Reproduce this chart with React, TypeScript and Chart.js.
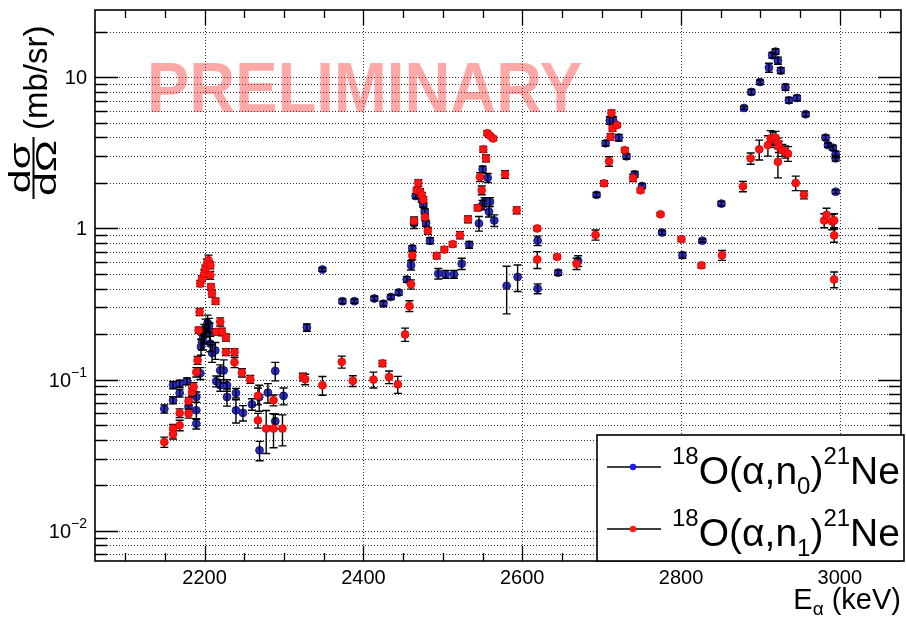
import React, { useEffect, useRef } from "react";
import { Chart, registerables } from "chart.js";

Chart.register(...registerables);

// 18O(α,n0)21Ne — beam energy (keV), cross section (mb/sr), uncertainty
const n0Energy = [
  2149.3, 2160.3, 2160.3, 2168.6, 2168.6, 2177.9, 2179.9, 2189.6, 2189.6, 2189.6,
  2194.6, 2195.5, 2196.7, 2198.0, 2199.6, 2201.3, 2203.8, 2205.5, 2206.3, 2207.2,
  2209.5, 2213.5, 2214.7, 2219.7, 2219.7, 2224.0, 2228.2, 2228.2, 2239.5, 2239.5,
  2248.3, 2259.6, 2268.8, 2269.2, 2279.7, 2289.0, 2289.0, 2299.4, 2328.8, 2348.4,
  2373.6, 2388.7, 2413.8, 2425.2, 2434.5, 2444.5, 2454.6, 2460.0, 2461.6, 2463.8,
  2465.9, 2473.5, 2475.5, 2477.2, 2478.9, 2483.9, 2494.3, 2503.6, 2514.0, 2523.8,
  2533.3, 2545.5, 2550.0, 2550.2, 2552.5, 2556.5, 2558.1, 2559.4, 2564.8, 2580.4,
  2594.2, 2619.4, 2619.4, 2645.3, 2670.4, 2693.6, 2705.0, 2710.3, 2714.5, 2721.6,
  2731.3, 2741.6, 2750.9, 2776.1, 2801.8, 2826.9, 2850.8, 2879.3, 2888.6, 2899.5,
  2910.7, 2914.9, 2919.0, 2922.0, 2925.6, 2931.5, 2935.8, 2946.0, 2956.9, 2982.0,
  2985.0, 2991.2, 2994.7, 2994.7, 2994.7,
];
const n0Value = [
  0.064, 0.092, 0.073, 0.094, 0.0815, 0.0975, 0.066, 0.0767, 0.0626, 0.0511,
  0.11, 0.165, 0.177, 0.187, 0.202, 0.221, 0.237, 0.229, 0.207, 0.173,
  0.15, 0.156, 0.0975, 0.115, 0.0917, 0.115, 0.0917, 0.0767, 0.0815, 0.0626,
  0.0602, 0.0686, 0.0767, 0.034, 0.082, 0.114, 0.053, 0.078, 0.221, 0.535,
  0.33, 0.33, 0.344, 0.318, 0.352, 0.377, 0.46, 0.571, 0.74, 1.08,
  1.64, 1.55, 1.43, 1.3, 1.08, 0.83, 0.503, 0.498, 0.498, 0.585,
  0.78, 1.08, 1.43, 2.46, 1.5, 2.16, 1.29, 1.5, 1.13, 0.417,
  0.478, 0.83, 0.4, 0.51, 0.61, 1.67, 3.66, 5.18, 5.18, 3.99,
  3.0, 2.28, 1.91, 0.94, 0.665, 0.83, 1.46, 6.27, 8.0, 9.3,
  11.6, 14.0, 14.8, 12.9, 11.1, 8.6, 7.05, 7.3, 5.7, 3.99,
  3.56, 3.42, 3.1, 2.91, 1.75,
];
const n0Error = [
  0.004, 0.005, 0.004, 0.005, 0.005, 0.005, 0.005, 0.006, 0.008, 0.004,
  0.01, 0.02, 0.02, 0.03, 0.03, 0.03, 0.03, 0.025, 0.03, 0.02,
  0.02, 0.02, 0.008, 0.01, 0.008, 0.02, 0.008, 0.01, 0.006, 0.011,
  0.007, 0.006, 0.015, 0.005, 0.012, 0.016, 0.006, 0.01, 0.012, 0.015,
  0.012, 0.01, 0.012, 0.012, 0.012, 0.015, 0.02, 0.04, 0.03, 0.08,
  0.06, 0.06, 0.05, 0.05, 0.05, 0.04, 0.04, 0.03, 0.03, 0.05,
  0.04, 0.12, 0.1, 0.12, 0.1, 0.15, 0.1, 0.1, 0.1, 0.145,
  0.095, 0.06, 0.03, 0.02, 0.05, 0.06, 0.15, 0.3, 0.3, 0.2,
  0.12, 0.1, 0.07, 0.03, 0.03, 0.02, 0.05, 0.15, 0.3, 0.3,
  0.8, 0.6, 0.6, 0.7, 0.5, 0.4, 0.3, 0.3, 0.2, 0.15,
  0.12, 0.12, 0.15, 0.12, 0.05,
];

// 18O(α,n1)21Ne
const n1Energy = [
  2149.3, 2160.3, 2160.3, 2168.6, 2168.6, 2179.9, 2179.9, 2184.2, 2186.2, 2189.6,
  2191.2, 2192.5, 2193.7, 2194.6, 2196.7, 2199.6, 2200.9, 2203.0, 2205.0, 2207.2,
  2207.2, 2208.0, 2209.3, 2213.8, 2214.7, 2219.7, 2221.9, 2226.9, 2226.9, 2237.7,
  2237.7, 2247.0, 2257.5, 2267.2, 2267.2, 2277.6, 2286.8, 2286.8, 2298.1, 2323.8,
  2326.7, 2348.4, 2372.8, 2386.7, 2412.6, 2424.0, 2432.3, 2443.3, 2452.5, 2457.9,
  2460.0, 2461.6, 2463.8, 2467.1, 2469.2, 2471.3, 2473.5, 2475.5, 2477.6, 2481.1,
  2492.3, 2501.9, 2512.4, 2521.6, 2531.7, 2543.9, 2546.8, 2549.0, 2551.0, 2554.4,
  2556.0, 2559.4, 2563.5, 2578.4, 2593.0, 2618.9, 2618.9, 2644.0, 2668.4, 2692.3,
  2703.1, 2709.4, 2711.2, 2712.4, 2713.7, 2719.5, 2729.2, 2739.6, 2749.0, 2774.1,
  2800.5, 2825.7, 2851.6, 2878.0, 2887.7, 2898.5, 2909.4, 2912.8, 2915.7, 2919.0,
  2922.0, 2922.0, 2923.2, 2927.5, 2931.3, 2934.6, 2944.4, 2954.8, 2980.3, 2983.3,
  2990.3, 2992.8, 2992.8, 2992.8,
];
const n1Value = [
  0.0386, 0.0474, 0.0434, 0.0498, 0.06, 0.0596, 0.0722, 0.0828, 0.0894, 0.112,
  0.134, 0.212, 0.28, 0.432, 0.466, 0.503, 0.542, 0.585, 0.616, 0.571,
  0.49, 0.41, 0.371, 0.33, 0.207, 0.241, 0.207, 0.19, 0.152, 0.152,
  0.13, 0.111, 0.1005, 0.078, 0.0537, 0.0474, 0.073, 0.0474, 0.0474, 0.104,
  0.1005, 0.0917, 0.131, 0.098, 0.1, 0.128, 0.104, 0.093, 0.199, 0.307,
  0.427, 0.662, 1.12, 1.79, 2.0, 1.75, 1.66, 1.55, 1.19, 0.965,
  0.66, 0.725, 0.787, 0.903, 1.15, 1.37, 2.19, 1.79, 3.34, 2.91,
  4.27, 4.11, 3.94, 2.28, 1.32, 1.0, 0.623, 0.649, 0.585, 0.907,
  1.99, 2.78, 4.04, 5.8, 4.6, 4.83, 3.3, 2.16, 1.79, 1.24,
  0.85, 0.57, 0.665, 1.9, 2.91, 3.34, 3.56, 3.94, 3.94, 3.99,
  3.66, 2.76, 3.48, 3.3, 3.22, 3.13, 2.0, 1.67, 1.13, 1.23,
  1.11, 1.13, 0.9, 0.46,
];
const n1Error = [
  0.003, 0.003, 0.003, 0.004, 0.004, 0.004, 0.004, 0.005, 0.006, 0.008,
  0.008, 0.01, 0.015, 0.02, 0.02, 0.03, 0.03, 0.04, 0.05, 0.03,
  0.03, 0.02, 0.02, 0.015, 0.01, 0.015, 0.012, 0.01, 0.008, 0.008,
  0.01, 0.007, 0.006, 0.01, 0.006, 0.015, 0.006, 0.012, 0.011, 0.006,
  0.008, 0.013, 0.012, 0.008, 0.012, 0.006, 0.01, 0.012, 0.02, 0.025,
  0.03, 0.04, 0.07, 0.08, 0.1, 0.08, 0.07, 0.07, 0.06, 0.05,
  0.03, 0.03, 0.03, 0.05, 0.06, 0.06, 0.15, 0.12, 0.15, 0.15,
  0.15, 0.12, 0.12, 0.13, 0.07, 0.03, 0.08, 0.02, 0.05, 0.07,
  0.08, 0.2, 0.2, 0.25, 0.2, 0.15, 0.12, 0.12, 0.06, 0.03,
  0.03, 0.02, 0.05, 0.15, 0.25, 0.5, 0.55, 0.5, 0.4, 0.4,
  0.3, 0.6, 0.3, 0.3, 0.3, 0.35, 0.22, 0.1, 0.12, 0.13,
  0.13, 0.12, 0.09, 0.055,
];

// Axes
const xRange = [2062, 3077];
const yRange = [0.0063, 27.9];
const xMajorTicks = [2200, 2400, 2600, 2800, 3000];
const xMinorTicks = [2100, 2150, 2250, 2300, 2350, 2450, 2500, 2550, 2650, 2700, 2750, 2850, 2900, 2950, 3050];
const yMajorTicks = [0.01, 0.1, 1, 10];
const yTickBase = ["10", "10", "1", "10"];
const yTickExp = ["\u22122", "\u22121", "", ""];
const yMinorTicks = [
  0.007, 0.008, 0.009,
  0.02, 0.03, 0.04, 0.05, 0.06, 0.07, 0.08, 0.09,
  0.2, 0.3, 0.4, 0.5, 0.6, 0.7, 0.8, 0.9,
  2, 3, 4, 5, 6, 7, 8, 9,
  20,
];

const errorSets = [n0Error, n1Error];
const seriesColors = ["#2a2ac6", "#ff1414"];
const seriesBorders = ["#181880", "#d80000"];

const FAMILY = "'Liberation Sans', Arial, Helvetica, sans-serif";
const font = (px: number, weight = "normal") => `${weight} ${px}px ${FAMILY}`;

type Part = { t: string; size: number; dy: number };

function drawRich(ctx: CanvasRenderingContext2D, x: number, y: number, parts: Part[]) {
  let cx = x;
  for (const p of parts) {
    ctx.font = font(p.size);
    ctx.fillText(p.t, cx, y + p.dy);
    cx += ctx.measureText(p.t).width;
  }
  return cx;
}

function richWidth(ctx: CanvasRenderingContext2D, parts: Part[]) {
  let w = 0;
  for (const p of parts) {
    ctx.font = font(p.size);
    w += ctx.measureText(p.t).width;
  }
  return w;
}

function drawErrors(chart: any, index: number) {
  const { ctx } = chart;
  const xs = chart.scales.x;
  const ys = chart.scales.y;
  const errs = errorSets[index];
  const pts = chart.data.datasets[index].data as { x: number; y: number }[];
  ctx.save();
  ctx.strokeStyle = "#000";
  ctx.lineWidth = 1.4;
  ctx.beginPath();
  pts.forEach((p, i) => {
    const e = errs[i];
    const px = xs.getPixelForValue(p.x);
    const top = ys.getPixelForValue(p.y + e);
    const bot = ys.getPixelForValue(Math.max(p.y - e, 1e-5));
    ctx.moveTo(px, top);
    ctx.lineTo(px, bot);
    ctx.moveTo(px - 4, top);
    ctx.lineTo(px + 4, top);
    ctx.moveTo(px - 4, bot);
    ctx.lineTo(px + 4, bot);
  });
  ctx.stroke();
  ctx.restore();
}

const rootStyle = {
  id: "rootStyle",
  beforeDraw(chart: any) {
    const { ctx, width, height } = chart;
    ctx.save();
    ctx.fillStyle = "#fff";
    ctx.fillRect(0, 0, width, height);
    ctx.restore();
  },
  beforeDatasetsDraw(chart: any) {
    const { ctx, chartArea: a } = chart;
    const xs = chart.scales.x;
    const ys = chart.scales.y;
    // dotted grid
    ctx.save();
    ctx.strokeStyle = "rgba(0,0,0,0.8)";
    ctx.lineWidth = 1;
    ctx.setLineDash([1, 2]);
    ctx.beginPath();
    for (const t of ys.ticks) {
      const py = Math.round(ys.getPixelForValue(t.value)) + 0.5;
      ctx.moveTo(a.left, py);
      ctx.lineTo(a.right, py);
    }
    for (const t of xs.ticks) {
      if (!t.major) continue;
      const px = Math.round(xs.getPixelForValue(t.value)) + 0.5;
      ctx.moveTo(px, a.top);
      ctx.lineTo(px, a.bottom);
    }
    ctx.stroke();
    ctx.restore();

    // watermark
    ctx.save();
    ctx.font = font(70, "bold");
    ctx.fillStyle = "rgba(255,0,0,0.34)";
    ctx.textBaseline = "alphabetic";
    const label = "PRELIMINARY";
    const w = ctx.measureText(label).width;
    ctx.translate(147, 112);
    ctx.scale(435 / w, 1);
    ctx.fillText(label, 0, 0);
    ctx.restore();
  },
  beforeDatasetDraw(chart: any, args: any) {
    if (args.index === 1) drawErrors(chart, 1);
  },
  afterDatasetDraw(chart: any, args: any) {
    if (args.index === 0) drawErrors(chart, 0);
  },
  afterDatasetsDraw(chart: any) {
    const { ctx, chartArea: a } = chart;
    const xs = chart.scales.x;
    const ys = chart.scales.y;

    // ticks on all four sides
    ctx.save();
    ctx.strokeStyle = "#000";
    ctx.lineWidth = 1.3;
    ctx.beginPath();
    for (const t of ys.ticks) {
      const py = Math.round(ys.getPixelForValue(t.value)) + 0.5;
      const len = t.major ? 23 : 12;
      ctx.moveTo(a.left, py);
      ctx.lineTo(a.left + len, py);
      ctx.moveTo(a.right, py);
      ctx.lineTo(a.right - len, py);
    }
    for (const t of xs.ticks) {
      const px = Math.round(xs.getPixelForValue(t.value)) + 0.5;
      const len = t.major ? 15 : 8;
      ctx.moveTo(px, a.bottom);
      ctx.lineTo(px, a.bottom - len);
      ctx.moveTo(px, a.top);
      ctx.lineTo(px, a.top + len);
    }
    ctx.stroke();
    ctx.lineWidth = 1.6;
    ctx.strokeRect(a.left, a.top, a.right - a.left, a.bottom - a.top);
    ctx.restore();

    // tick labels
    ctx.save();
    ctx.fillStyle = "#000";
    ctx.textBaseline = "alphabetic";
    ctx.font = font(20);
    ctx.textAlign = "center";
    xMajorTicks.forEach((v) => {
      ctx.fillText(String(v), xs.getPixelForValue(v), 583.5);
    });
    ctx.textAlign = "left";
    yMajorTicks.forEach((v, i) => {
      const py = ys.getPixelForValue(v);
      const parts: Part[] = [{ t: yTickBase[i], size: 20, dy: 0 }];
      if (yTickExp[i]) parts.push({ t: yTickExp[i], size: 14, dy: -10 });
      const w = richWidth(ctx, parts);
      drawRich(ctx, 87 - w, py + 7, parts);
    });

    // x title
    const xt: Part[] = [
      { t: "E", size: 29, dy: 0 },
      { t: "\u03b1", size: 19, dy: 6 },
      { t: " (keV)", size: 29, dy: 0 },
    ];
    drawRich(ctx, 901 - richWidth(ctx, xt), 609, xt);

    // y title, rotated: fraction followed by the unit
    ctx.save();
    ctx.rotate(-Math.PI / 2);
    const u0 = -199;
    ctx.font = font(30);
    const num = "d\u03c3";
    const den = "d\u03a9";
    const wn = ctx.measureText(num).width;
    const wd = ctx.measureText(den).width;
    const fw = Math.max(wn, wd) + 4;
    const fracLen = 62;
    ctx.save();
    ctx.translate(u0, 0);
    ctx.scale(fracLen / fw, 1);
    ctx.fillText(num, (fw - wn) / 2, 30);
    ctx.fillText(den, (fw - wd) / 2, 56);
    ctx.fillRect(0, 32.5, fw, 2);
    ctx.restore();
    ctx.font = font(33);
    ctx.fillText("(mb/sr)", u0 + fracLen + 7, 47);
    ctx.restore();
    ctx.restore();

    // legend
    ctx.save();
    ctx.fillStyle = "#fff";
    ctx.fillRect(597, 435, 307, 126);
    ctx.strokeStyle = "#000";
    ctx.lineWidth = 1.6;
    ctx.strokeRect(597, 435, 307, 126);
    const rows = [
      { y: 467, base: 484, sub: "0" },
      { y: 529, base: 546, sub: "1" },
    ];
    rows.forEach((r, i) => {
      ctx.strokeStyle = "#000";
      ctx.lineWidth = 1.5;
      ctx.beginPath();
      ctx.moveTo(607, r.y);
      ctx.lineTo(661, r.y);
      ctx.stroke();
      ctx.fillStyle = i === 0 ? "#1c1cf0" : "#ff1a1a";
      ctx.beginPath();
      ctx.arc(633, r.y, 3.2, 0, Math.PI * 2);
      ctx.fill();
      ctx.fillStyle = "#000";
      drawRich(ctx, 672, r.base, [
        { t: "18", size: 24, dy: -20 },
        { t: "O(\u03b1,n", size: 39, dy: 0 },
        { t: r.sub, size: 24, dy: 10 },
        { t: ")", size: 39, dy: 0 },
        { t: "21", size: 24, dy: -20 },
        { t: "Ne", size: 39, dy: 0 },
      ]);
    });
    ctx.restore();
  },
};

export default function App() {
  const canvasRef = useRef<HTMLCanvasElement | null>(null);

  useEffect(() => {
    const canvas = canvasRef.current;
    if (!canvas) return;
    const n0Points = n0Energy.map((x, i) => ({ x, y: n0Value[i] }));
    const n1Points = n1Energy.map((x, i) => ({ x, y: n1Value[i] }));

    const chart = new Chart(canvas, {
      type: "scatter",
      data: {
        datasets: [
          {
            label: "18O(a,n0)21Ne",
            data: n0Points,
            order: 2,
            pointRadius: 3.9,
            pointBorderWidth: 1,
            pointBackgroundColor: seriesColors[0],
            pointBorderColor: seriesBorders[0],
            showLine: false,
          },
          {
            label: "18O(a,n1)21Ne",
            data: n1Points,
            order: 1,
            pointRadius: 3.9,
            pointBorderWidth: 0.8,
            pointBackgroundColor: seriesColors[1],
            pointBorderColor: seriesBorders[1],
            showLine: false,
          },
        ],
      },
      options: {
        responsive: false,
        animation: false,
        devicePixelRatio: 1,
        events: [],
        layout: { padding: { top: 10, right: 3, left: 0, bottom: 0 } },
        plugins: { legend: { display: false }, tooltip: { enabled: false } },
        scales: {
          x: {
            type: "linear",
            position: "bottom",
            min: xRange[0],
            max: xRange[1],
            grid: { display: false },
            border: { display: false },
            ticks: { display: false },
            afterBuildTicks: (s: any) => {
              s.ticks = [
                ...xMajorTicks.map((v) => ({ value: v, major: true })),
                ...xMinorTicks.map((v) => ({ value: v, major: false })),
              ];
            },
            afterFit: (s: any) => {
              s.height = 62;
            },
          },
          y: {
            type: "logarithmic",
            position: "left",
            min: yRange[0],
            max: yRange[1],
            grid: { display: false },
            border: { display: false },
            ticks: { display: false },
            afterBuildTicks: (s: any) => {
              s.ticks = [
                ...yMajorTicks.map((v) => ({ value: v, major: true })),
                ...yMinorTicks.map((v) => ({ value: v, major: false })),
              ];
            },
            afterFit: (s: any) => {
              s.width = 95;
            },
          },
        },
      } as any,
      plugins: [rootStyle],
    });

    return () => chart.destroy();
  }, []);

  return (
    <div style={{ position: "fixed", left: 0, top: 0, width: 906, height: 623, background: "#fff" }}>
      <canvas ref={canvasRef} width={906} height={623} style={{ display: "block" }} />
    </div>
  );
}
